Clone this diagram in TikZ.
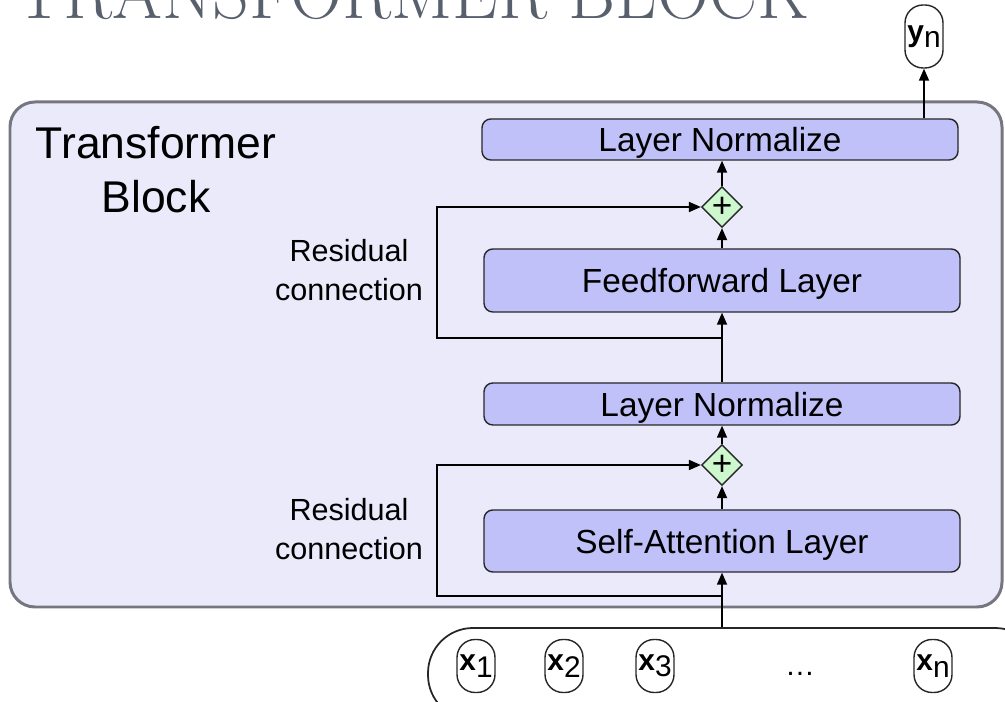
\documentclass[tikz,border=0pt]{standalone}
\usepackage{fontspec}
\setsansfont{Liberation Sans}
\usepackage{tikz}
\usetikzlibrary{shapes.geometric, positioning, arrows.meta}
\definecolor{BlockFill}{RGB}{234, 234, 251}
\definecolor{BlockEdge}{RGB}{118, 118, 128}
\definecolor{LayerFill}{RGB}{191, 193, 248}
\definecolor{AddFill}{RGB}{205, 248, 205}
\definecolor{TitleGray}{RGB}{88, 96, 110}

\begin{document}
\begin{tikzpicture}[
  font=\sffamily,
  layer/.style={draw=black!85, line width=0.8pt, fill=LayerFill, rounded corners=5pt, minimum width=9.52cm, text depth=0pt, font=\sffamily\fontsize{19}{22}\selectfont},
  addnode/.style={diamond, draw=black!85, line width=0.8pt, fill=AddFill, inner sep=0pt, minimum width=0.72cm, minimum height=0.72cm, font=\sffamily\fontsize{20}{20}\selectfont},
  token/.style={draw=black!85, line width=0.8pt, rounded corners=0.36cm, minimum width=0.76cm, minimum height=1.06cm, inner sep=0pt, font=\sffamily\fontsize{17}{17}\selectfont},
  flow/.style={-{Triangle[length=2.4mm, width=2mm]}, line width=1pt},
  note/.style={align=center, font=\sffamily\fontsize{17.4}{22}\selectfont}
]
\useasboundingbox (0,0) rectangle (20.1,14.04);

% title, cut by the page top
\node[anchor=base west, inner sep=0pt, text=TitleGray, font=\rmfamily\fontsize{41}{41}\selectfont] (title) at (0.3,13.66) {TRANSFORMER BLOCK};

% the block
\node[draw=BlockEdge, line width=1.7pt, fill=BlockFill, rounded corners=0.5cm, minimum width=19.84cm, minimum height=10.1cm] (block) at (10.12,6.95) {};
\node[align=center, font=\sffamily\fontsize{25.3}{30.6}\selectfont] (blocktxt) at (3.12,10.64) {Transformer\\Block};

% layers
\node[layer, minimum height=1.24cm] (attn) at (14.44,3.22) {Self-Attention Layer};
\node[addnode] (add1) at (14.44,4.74) {+};
\node[layer, minimum height=0.84cm] (norm1) at (14.44,5.96) {Layer Normalize};
\node[layer, minimum height=1.26cm] (ffn) at (14.44,8.43) {Feedforward Layer};
\node[addnode] (add2) at (14.44,9.9) {+};
\node[layer, minimum height=0.82cm] (norm2) at (14.40,11.25) {Layer Normalize};

\node[note] (res1txt) at (6.98,3.46) {Residual\\connection};
\node[note] (res2txt) at (6.98,8.64) {Residual\\connection};

% inputs and output
\node[draw=black!85, line width=1pt, rounded corners=0.9cm, minimum width=12.24cm, minimum height=1.84cm] (inrow) at (14.68,0.56) {};
\node[token] (x1) at (9.52,0.72) {\textbf{x}\raisebox{-0.4ex}{1}};
\node[token] (x2) at (11.28,0.72) {\textbf{x}\raisebox{-0.4ex}{2}};
\node[token] (x3) at (13.10,0.72) {\textbf{x}\raisebox{-0.4ex}{3}};
\node[font=\sffamily\fontsize{17}{17}\selectfont] (dots) at (16.0,0.56) {\dots};
\node[token] (xn) at (18.66,0.72) {\textbf{x}\raisebox{-0.4ex}{n}};
\node[token, minimum height=1.26cm] (yn) at (18.48,13.31) {\textbf{y}\raisebox{-0.4ex}{n}};

\coordinate (res1) at (8.74,2.12);
\coordinate (res2) at (8.74,7.28);

% connections
\draw[flow] (attn.south |- inrow.north) -- (attn.south);
\draw[flow] (attn.south |- res1) -- (res1) |- (add1.west);
\draw[flow] (attn.north) -- (add1.south);
\draw[flow] (add1.north) -- (add1.north |- norm1.south);
\draw[flow] (norm1.north -| ffn.south) -- (ffn.south);
\draw[flow] (ffn.south |- res2) -- (res2) |- (add2.west);
\draw[flow] (ffn.north) -- (add2.south);
\draw[flow] (add2.north) -- (add2.north |- norm2.south);
\draw[flow] (norm2.north -| yn.south) -- (yn.south);
\end{tikzpicture}
\end{document}
